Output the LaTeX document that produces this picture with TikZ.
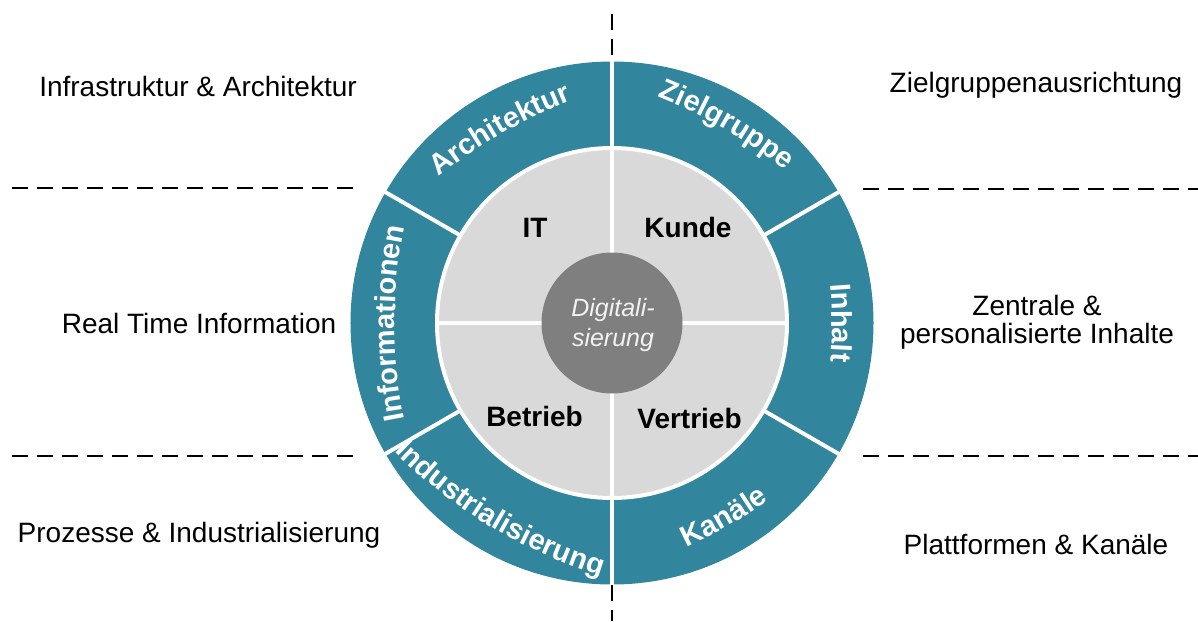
\documentclass[tikz,border=0pt]{standalone}
\usepackage{fontspec}
\setmainfont{Liberation Sans}
\usepackage{tikz}
\usetikzlibrary{decorations.text}
\definecolor{RingTeal}{HTML}{31859C}
\definecolor{SoftGray}{HTML}{D9D9D9}
\definecolor{CoreGray}{HTML}{7F7F7F}
\definecolor{CoreText}{HTML}{F2F2F2}
\newcommand{\ringfont}{\fontsize{14.5}{14.5}\selectfont\bfseries}
\newcommand{\arclabel}[4]{%
  \path[shift={(#1:#2-500)}, decorate,
    decoration={text along path, text align=center, text color=white, text={|\ringfont|#4}}]
    (#1+#3:500) arc[start angle=#1+#3, end angle=#1-#3, radius=500];}

\begin{document}
\begin{tikzpicture}[x=0.5pt, y=0.5pt,
  sidetext/.style={font=\fontsize{14}{14}\selectfont, anchor=base, align=center, inner sep=0pt},
  fieldtext/.style={font=\fontsize{14}{14}\selectfont\bfseries, anchor=base, inner sep=0pt},
  divider/.style={line width=1.1pt, dash pattern=on 8pt off 4.5pt},
  gap/.style={white, line width=2pt}]
\useasboundingbox (-612,-298) rectangle (586,323);
\fill[RingTeal] (0,0) circle[radius=261.5];
\fill[SoftGray] (0,0) circle[radius=175];
\draw[gap] (0,0) circle[radius=175];
\foreach \a in {30,150,210,330}
  \draw[gap] (\a:175) -- (\a:263);
\draw[gap] (0,-263) -- (0,263);
\draw[gap] (-175,0) -- (175,0);
\fill[CoreGray] (0,0) circle[radius=70.5];
\node[font=\fontsize{12.5}{15}\selectfont\itshape, text=CoreText, align=center, inner sep=0pt] (core) at (1,-2) {Digitali-\\sierung};
\node[fieldtext] (it) at (-77,86) {IT};
\node[fieldtext] (kunde) at (76,86) {Kunde};
\node[fieldtext] (betrieb) at (-77.5,-103) {Betrieb};
\node[fieldtext] (vertrieb) at (77.5,-105) {Vertrieb};
\arclabel{120}{219}{30}{Architektur}
\arclabel{60}{224}{30}{Zielgruppe}
\arclabel{180}{217}{30}{Informationen}
\arclabel{0}{220}{30}{Inhalt}
\arclabel{239}{237}{-30}{Industrialisierung}
\arclabel{300}{234}{-30}{Kanäle}
\node[sidetext] (infra) at (-414,226) {Infrastruktur \& Architektur};
\node[sidetext] (zielgruppe) at (424,230) {Zielgruppenausrichtung};
\node[sidetext] (realtime) at (-413,-10) {Real Time Information};
\node[sidetext, anchor=center] (inhalte) at (425,1) {Zentrale \&\\personalisierte Inhalte};
\node[sidetext] (prozesse) at (-413,-219) {Prozesse \& Industrialisierung};
\node[sidetext] (plattform) at (424,-231) {Plattformen \& Kanäle};
\draw[divider] (-600,135) -- (-255,135);
\draw[divider] (251,134) -- (586,134);
\draw[divider] (-600,-133) -- (-255,-133);
\draw[divider] (251,-133) -- (586,-133);
\draw[divider] (0,309) -- (0,262);
\draw[divider] (0,-262) -- (0,-298);
\end{tikzpicture}
\end{document}
